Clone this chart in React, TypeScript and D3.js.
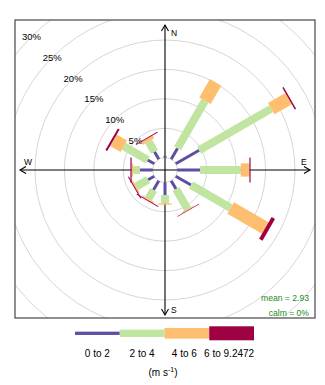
import React from "react";
import * as d3 from "d3";

// ---- data ----
const directions = [0, 30, 60, 90, 120, 150, 180, 210, 240, 270, 300, 330];
const speedBins = ["0 to 2", "2 to 4", "4 to 6", "6 to 9.2472"];
const binColors = ["#5E4FA2", "#BFE5A0", "#FDBF6F", "#9E0142"];
const freq0to2 = [0.3, 2.16, 4.61, 3.86, 3.01, 1.65, 2.16, 1.82, 1.23, 2.16, 1.31, 1.47];
const freq2to4 = [0, 9.34, 14.15, 6.92, 7.79, 3.91, 1.41, 1.7, 2.29, 1.14, 4.68, 2.03];
const freq4to6 = [0, 3.6, 3.4, 1.47, 6.8, 0.17, 0.24, 0.25, 0.26, 0.27, 2.04, 0.53];
const freq6plus = [0, 0, 0.25, 0.2, 0.67, 0.12, 0, 0.17, 0.17, 0.21, 0.34, 0.17];
const ringTicks = [5, 10, 15, 20, 25, 30];
const ringGrid = [0, 5, 10, 15, 20, 25, 30, 35, 40];
const compassLabels = ["N", "E", "S", "W"];
const compassAngles = [0, 90, 180, 270];
const meanText = "mean = 2.93";
const calmText = "calm = 0%";
const offset = 2.1;

const FONT = "'Liberation Sans', Arial, sans-serif";

export default function App() {
  const W = 325, H = 385;
  const panel = { x0: 15, y0: 20, x1: 315, y1: 318 };
  const cx = 165, cy = 170;
  const rScale = d3.scaleLinear().domain([-offset, 30]).range([0, 188.8]);
  const halfWidths = [1.5, 4, 6.6, 12.5];
  const axisLen = 145;

  const series = [freq0to2, freq2to4, freq4to6, freq6plus];
  const table = directions.map((d, i) => {
    const row: any = { dir: d };
    speedBins.forEach((b, j) => (row[b] = series[j][i]));
    return row;
  });
  const stacked = d3.stack().keys(speedBins)(table);

  const paddles: { key: string; pts: [number, number][]; color: string }[] = [];
  directions.forEach((d, i) => {
    const th = (d * Math.PI) / 180;
    const ux = Math.sin(th), uy = -Math.cos(th);
    const px = Math.cos(th), py = Math.sin(th);
    stacked.forEach((s, j) => {
      const [a, b] = s[i];
      if (b - a <= 0) return;
      const r1 = rScale(a), r2 = rScale(b);
      const hw = halfWidths[j];
      const pts: [number, number][] = [
        [cx + ux * r1 - px * hw, cy + uy * r1 - py * hw],
        [cx + ux * r1 + px * hw, cy + uy * r1 + py * hw],
        [cx + ux * r2 + px * hw, cy + uy * r2 + py * hw],
        [cx + ux * r2 - px * hw, cy + uy * r2 - py * hw],
      ];
      paddles.push({ key: `${d}-${j}`, pts, color: binColors[j] });
    });
  });

  const line = d3.line();

  // legend
  const legendX = d3.scaleBand().domain(speedBins).range([75, 254]).padding(0);
  const legendH = [3.3, 7.3, 10.7, 14];
  const legendY = 333.3;

  const diag = Math.SQRT1_2;

  return (
    <svg width={W} height={H} style={{ position: "absolute", left: 0, top: 0, background: "#fff" }} fontFamily={FONT}>
      <defs>
        <clipPath id="pclip">
          <rect x={panel.x0} y={panel.y0} width={panel.x1 - panel.x0} height={panel.y1 - panel.y0} />
        </clipPath>
      </defs>
      <g clipPath="url(#pclip)">
        {ringGrid.map((v) => (
          <circle key={v} cx={cx} cy={cy} r={rScale(v)} fill="none" stroke="#d6d6d6" strokeWidth={1} />
        ))}
      </g>
      {ringTicks.map((v) => (
        <text key={v} x={cx - rScale(v) * diag} y={cy - rScale(v) * diag} textAnchor="middle" dominantBaseline="central" fontSize={9.5} fill="#000">
          {v}%
        </text>
      ))}
      {/* axes */}
      {compassAngles.map((a, i) => {
        const th = (a * Math.PI) / 180;
        const ux = Math.sin(th), uy = -Math.cos(th);
        const px = Math.cos(th), py = Math.sin(th);
        const tx = cx + ux * axisLen, ty = cy + uy * axisLen;
        const al = 6, aw = 3.5;
        return (
          <g key={a}>
            <line x1={cx} y1={cy} x2={tx} y2={ty} stroke="#000" strokeWidth={1.1} />
            <path
              d={line([
                [tx - ux * al + px * aw, ty - uy * al + py * aw],
                [tx, ty],
                [tx - ux * al - px * aw, ty - uy * al - py * aw],
              ]) as string}
              fill="none"
              stroke="#000"
              strokeWidth={1.1}
            />
          </g>
        );
      })}
      {paddles.map((p) => (
        <path key={p.key} d={(line(p.pts) as string) + "Z"} fill={p.color} stroke="none" />
      ))}
      {/* compass labels */}
      <text x={cx + 6} y={cy - axisLen + 8} fontSize={8.5} dominantBaseline="central">{compassLabels[0]}</text>
      <text x={cx + axisLen - 9} y={cy - 8} fontSize={8.5} dominantBaseline="central">{compassLabels[1]}</text>
      <text x={cx + 6} y={cy + axisLen - 5} fontSize={8.5} dominantBaseline="central">{compassLabels[2]}</text>
      <text x={cx - axisLen + 4} y={cy - 8} fontSize={8.5} dominantBaseline="central">{compassLabels[3]}</text>
      <text x={309} y={298} textAnchor="end" dominantBaseline="central" fontSize={8.6} fill="#228B22">{meanText}</text>
      <text x={309} y={313} textAnchor="end" dominantBaseline="central" fontSize={8.6} fill="#228B22">{calmText}</text>
      <rect x={panel.x0} y={panel.y0} width={panel.x1 - panel.x0} height={panel.y1 - panel.y0} fill="none" stroke="#555" strokeWidth={1.3} />
      {/* legend */}
      {speedBins.map((b, j) => (
        <g key={b}>
          <rect x={legendX(b)} y={legendY - legendH[j] / 2} width={legendX.bandwidth()} height={legendH[j]} fill={binColors[j]} />
          <text x={(legendX(b) as number) + legendX.bandwidth() / 2 - (j >= 2 ? 2.5 : 0)} y={356.7} textAnchor="middle" fontSize={10}>
            {b}
          </text>
        </g>
      ))}
      <text x={163} y={376} textAnchor="middle" fontSize={10}>
        (m s<tspan dy={-4} fontSize={7}>-1</tspan><tspan dy={4}>)</tspan>
      </text>
    </svg>
  );
}
